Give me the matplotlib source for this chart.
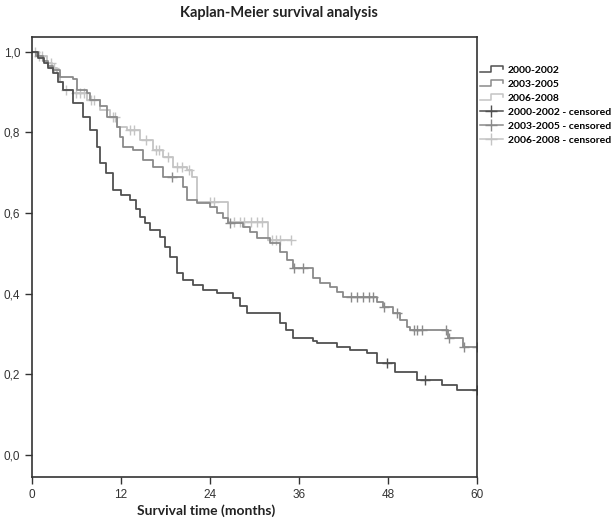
import numpy as np
import matplotlib
matplotlib.use('Agg')
import matplotlib.pyplot as plt
from matplotlib.lines import Line2D
from matplotlib.legend_handler import HandlerBase

plt.rcParams['font.family'] = ['Liberation Sans', 'DejaVu Sans']

# Kaplan-Meier step data (months, survival after each drop)
t_0002 = [0, 0.8, 1.6, 2.2, 2.8, 3.5, 4.2, 5.5, 6.9, 7.8, 8.8, 9.2, 10.0, 10.9,
          12.0, 13.2, 14.0, 14.6, 15.3, 15.9, 17.3, 18.0, 18.6, 19.5,
          20.4, 21.7, 23.1, 24.9, 27.1, 28.0, 29.0, 33.4, 34.3, 35.2,
          37.9, 38.4, 41.1, 42.9, 45.2, 46.5, 48.9, 52.0, 55.3, 57.3, 60]
s_0002 = [1.0, 0.985, 0.972, 0.96, 0.948, 0.925, 0.906, 0.873, 0.839, 0.806, 0.764, 0.725, 0.70, 0.658,
          0.645, 0.633, 0.61, 0.59, 0.575, 0.558, 0.541, 0.515, 0.491, 0.452,
          0.434, 0.422, 0.409, 0.402, 0.39, 0.37, 0.352, 0.328, 0.31, 0.29,
          0.283, 0.278, 0.268, 0.26, 0.253, 0.228, 0.206, 0.186, 0.174, 0.161, 0.161]
c_0002 = [47.9, 53.0, 60]

t_0305 = [0, 0.6, 1.5, 2.2, 2.8, 3.8, 5.5, 6.1, 7.4, 7.8, 9.2, 10.1,
          11.5, 11.9, 12.3, 13.6, 15.0, 16.3, 17.7, 20.4, 20.9, 22.2,
          24.0, 24.9, 25.8, 26.5, 28.4, 29.4, 30.3, 32.1, 33.4, 34.4, 35.2,
          37.9, 38.8, 40.2, 41.1, 41.9, 46.5, 47.3, 48.7, 49.6, 50.6,
          51.0, 56.1, 58.1, 60]
s_0305 = [1.0, 0.99, 0.978, 0.965, 0.955, 0.938, 0.931, 0.906, 0.898, 0.881, 0.864, 0.839,
          0.814, 0.789, 0.764, 0.757, 0.732, 0.715, 0.690, 0.665, 0.633, 0.625,
          0.615, 0.600, 0.588, 0.576, 0.566, 0.553, 0.538, 0.526, 0.504, 0.484, 0.464,
          0.439, 0.427, 0.417, 0.404, 0.392, 0.380, 0.367, 0.352, 0.335, 0.318,
          0.310, 0.290, 0.268, 0.268]
c_0305 = [18.9, 26.7, 35.4, 36.5, 43.0, 43.8, 44.6, 45.5, 46.0, 47.5,
          49.3, 51.5, 52.0, 52.6, 55.8, 56.3, 58.3, 60]

t_0608 = [0, 0.9, 2.0, 2.7, 3.4, 3.8, 4.2, 5.5, 7.4, 9.2, 10.5, 11.5, 12.8,
          14.6, 16.3, 17.7, 19.0, 20.9, 21.6, 22.2, 26.4, 31.8, 35.0]
s_0608 = [1.0, 0.99, 0.973, 0.96, 0.948, 0.925, 0.906, 0.898, 0.881, 0.856, 0.839, 0.814, 0.806,
          0.782, 0.757, 0.739, 0.715, 0.707, 0.690, 0.628, 0.578, 0.533, 0.533]
c_0608 = [0.4, 0.9, 1.4, 2.5, 3.0, 4.6, 5.9, 6.5, 7.0, 7.9, 8.4, 10.9, 11.2,
          13.2, 13.7, 15.4, 16.7, 17.1, 18.3, 19.5, 20.2, 21.2, 24.0, 24.5,
          27.2, 28.0, 28.6, 29.5, 30.3, 31.0, 32.4, 32.9, 33.5, 35.0]

groups = ['2000-2002', '2003-2005', '2006-2008']
colors = ['#505050', '#8a8a8a', '#c4c4c4']


def surv_at(times, surv, c):
    idx = np.searchsorted(times, c, side='right') - 1
    return np.array(surv)[idx]


class StepHandler(HandlerBase):
    def create_artists(self, legend, orig_handle, xdescent, ydescent,
                       width, height, fontsize, trans):
        w, h = width, height
        x = np.array([0, 0.5*w, 0.5*w, w, w]) - xdescent
        y = np.array([0.15*h, 0.15*h, 0.9*h, 0.9*h, 0.55*h]) - ydescent
        ln = Line2D(x, y, color=orig_handle.get_color(), lw=1.1)
        ln.set_transform(trans)
        return [ln]


fig = plt.figure(figsize=(6.16, 5.21), dpi=100)
ax = fig.add_axes([0.052, 0.0845, 0.722, 0.845])

data = [(t_0002, s_0002, c_0002), (t_0305, s_0305, c_0305), (t_0608, s_0608, c_0608)]
# draw lightest first so the darker curves sit on top
for i in [2, 1, 0]:
    t, s, c = data[i]
    ax.step(t, s, where='post', color=colors[i], lw=1.3)
    ax.plot(c, surv_at(t, s, c), ls='none', marker='+', ms=7, mew=1.0,
            color=colors[i])

ax.set_xlim(0, 60)
ax.set_ylim(-0.055, 1.037)
ax.set_xticks([0, 12, 24, 36, 48, 60])
ax.set_yticks([0.0, 0.2, 0.4, 0.6, 0.8, 1.0])
ax.set_yticklabels(['0,0', '0,2', '0,4', '0,6', '0,8', '1,0'])
ax.tick_params(direction='out', length=5, width=1.0, labelsize=8.5,
               colors='#333333')
for sp in ax.spines.values():
    sp.set_linewidth(1.2)
    sp.set_color('#333333')

fig.text(0.453, 0.975, 'Kaplan-Meier survival analysis', ha='center',
         va='center', fontsize=10.5, fontweight='bold', family='Lato',
         color='#222222')
fig.text(0.335, 0.019, 'Survival time (months)', ha='center', va='center',
         fontsize=10, fontweight='bold', family='Lato', color='#222222')

handles = [Line2D([0], [0], color=c) for c in colors]
handles += [Line2D([0], [0], color=c, marker='+', ms=9, mew=1.0, lw=1.1)
            for c in colors]
labels = groups + [g + ' - censored' for g in groups]
leg = fig.legend(handles, labels, loc='upper left',
                 bbox_to_anchor=(0.772, 0.882), frameon=False,
                 handlelength=2.2, handletextpad=0.5, labelspacing=0.45,
                 borderaxespad=0,
                 handler_map={h: StepHandler() for h in handles[:3]},
                 prop={'family': 'Lato', 'weight': 'bold', 'size': 7.5})

fig.savefig('out.png', dpi=100)
